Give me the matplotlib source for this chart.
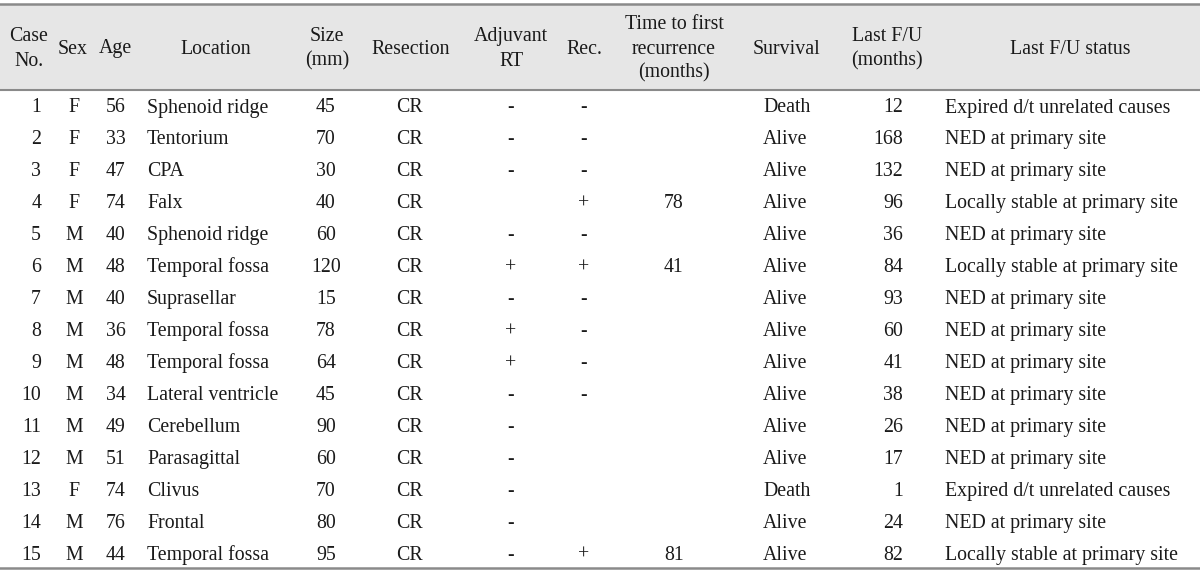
import matplotlib
matplotlib.use("Agg")
import matplotlib.pyplot as plt
from matplotlib.patches import Rectangle

plt.rcParams['font.family'] = ['Liberation Serif', 'DejaVu Serif']

case_no = [str(i) for i in range(1, 16)]
sex = ["F", "F", "F", "F", "M", "M", "M", "M", "M", "M", "M", "M", "F", "M", "M"]
age = [56, 33, 47, 74, 40, 48, 40, 36, 48, 34, 49, 51, 74, 76, 44]
location = ["Sphenoid ridge", "Tentorium", "CPA", "Falx", "Sphenoid ridge", "Temporal fossa",
            "Suprasellar", "Temporal fossa", "Temporal fossa", "Lateral ventricle", "Cerebellum",
            "Parasagittal", "Clivus", "Frontal", "Temporal fossa"]
size_mm = [45, 70, 30, 40, 60, 120, 15, 78, 64, 45, 90, 60, 70, 80, 95]
resection = ["CR"] * 15
adjuvant_rt = ["-", "-", "-", "", "-", "+", "-", "+", "+", "-", "-", "-", "-", "-", "-"]
rec = ["-", "-", "-", "+", "-", "+", "-", "-", "-", "-", "", "", "", "", "+"]
time_to_rec = ["", "", "", "78", "", "41", "", "", "", "", "", "", "", "", "81"]
survival = ["Death", "Alive", "Alive", "Alive", "Alive", "Alive", "Alive", "Alive", "Alive",
            "Alive", "Alive", "Alive", "Death", "Alive", "Alive"]
last_fu = [12, 168, 132, 96, 36, 84, 93, 60, 41, 38, 26, 17, 1, 24, 82]
status = ["Expired d/t unrelated causes", "NED at primary site", "NED at primary site",
          "Locally stable at primary site", "NED at primary site", "Locally stable at primary site",
          "NED at primary site", "NED at primary site", "NED at primary site", "NED at primary site",
          "NED at primary site", "NED at primary site", "Expired d/t unrelated causes",
          "NED at primary site", "Locally stable at primary site"]

headers = [["Case", "No."], ["Sex"], ["Age"], ["Location"], ["Size", "(mm)"], ["Resection"],
           ["Adjuvant", "RT"], ["Rec."], ["Time to first", "recurrence", "(months)"],
           ["Survival"], ["Last F/U", "(months)"], ["Last F/U status"]]
header_x = [29, 73, 115, 216, 327, 411, 511, 584, 674, 787, 887, 1070]

# column layout: (x, alignment)
col_layout = [(41, 'right'), (74, 'center'), (116, 'center'), (147, 'left'), (326, 'center'),
              (409, 'center'), (511, 'center'), (584, 'center'), (674, 'center'), (763, 'left'),
              (903, 'right'), (945, 'left')]

W, H = 1200, 572
fig = plt.figure(figsize=(W / 100, H / 100), dpi=100)
ax = fig.add_axes([0, 0, 1, 1])
ax.set_xlim(0, W)
ax.set_ylim(H, 0)
ax.axis('off')

fs = 14.3
txt_col = '#1a1a1a'
line_col = '#8a8a8a'
ax.add_patch(Rectangle((0, 4), W, 86, facecolor='#e6e6e6', edgecolor='none'))
ax.plot([0, W], [4, 4], color=line_col, lw=1.8)
ax.plot([0, W], [90, 90], color=line_col, lw=1.5)
ax.plot([0, W], [568, 568], color=line_col, lw=1.8)

hdr_base, hdr_step = 53.5, 24.3
for hx, lines in zip(header_x, headers):
    n = len(lines)
    for k, s in enumerate(lines):
        yb = hdr_base + (k - (n - 1) / 2) * hdr_step
        ax.text(hx, yb, s, ha='center', va='baseline', fontsize=fs, color=txt_col)

columns = [case_no, sex, age, location, size_mm, resection, adjuvant_rt, rec, time_to_rec,
           survival, last_fu, status]
base0, dy = 112.5, (560 - 112.5) / 14
for i in range(15):
    yb = base0 + i * dy
    for (x, ha), col in zip(col_layout, columns):
        ax.text(x, yb, str(col[i]), ha=ha, va='baseline', fontsize=fs, color=txt_col)

fig.savefig('out.png', dpi=100)
